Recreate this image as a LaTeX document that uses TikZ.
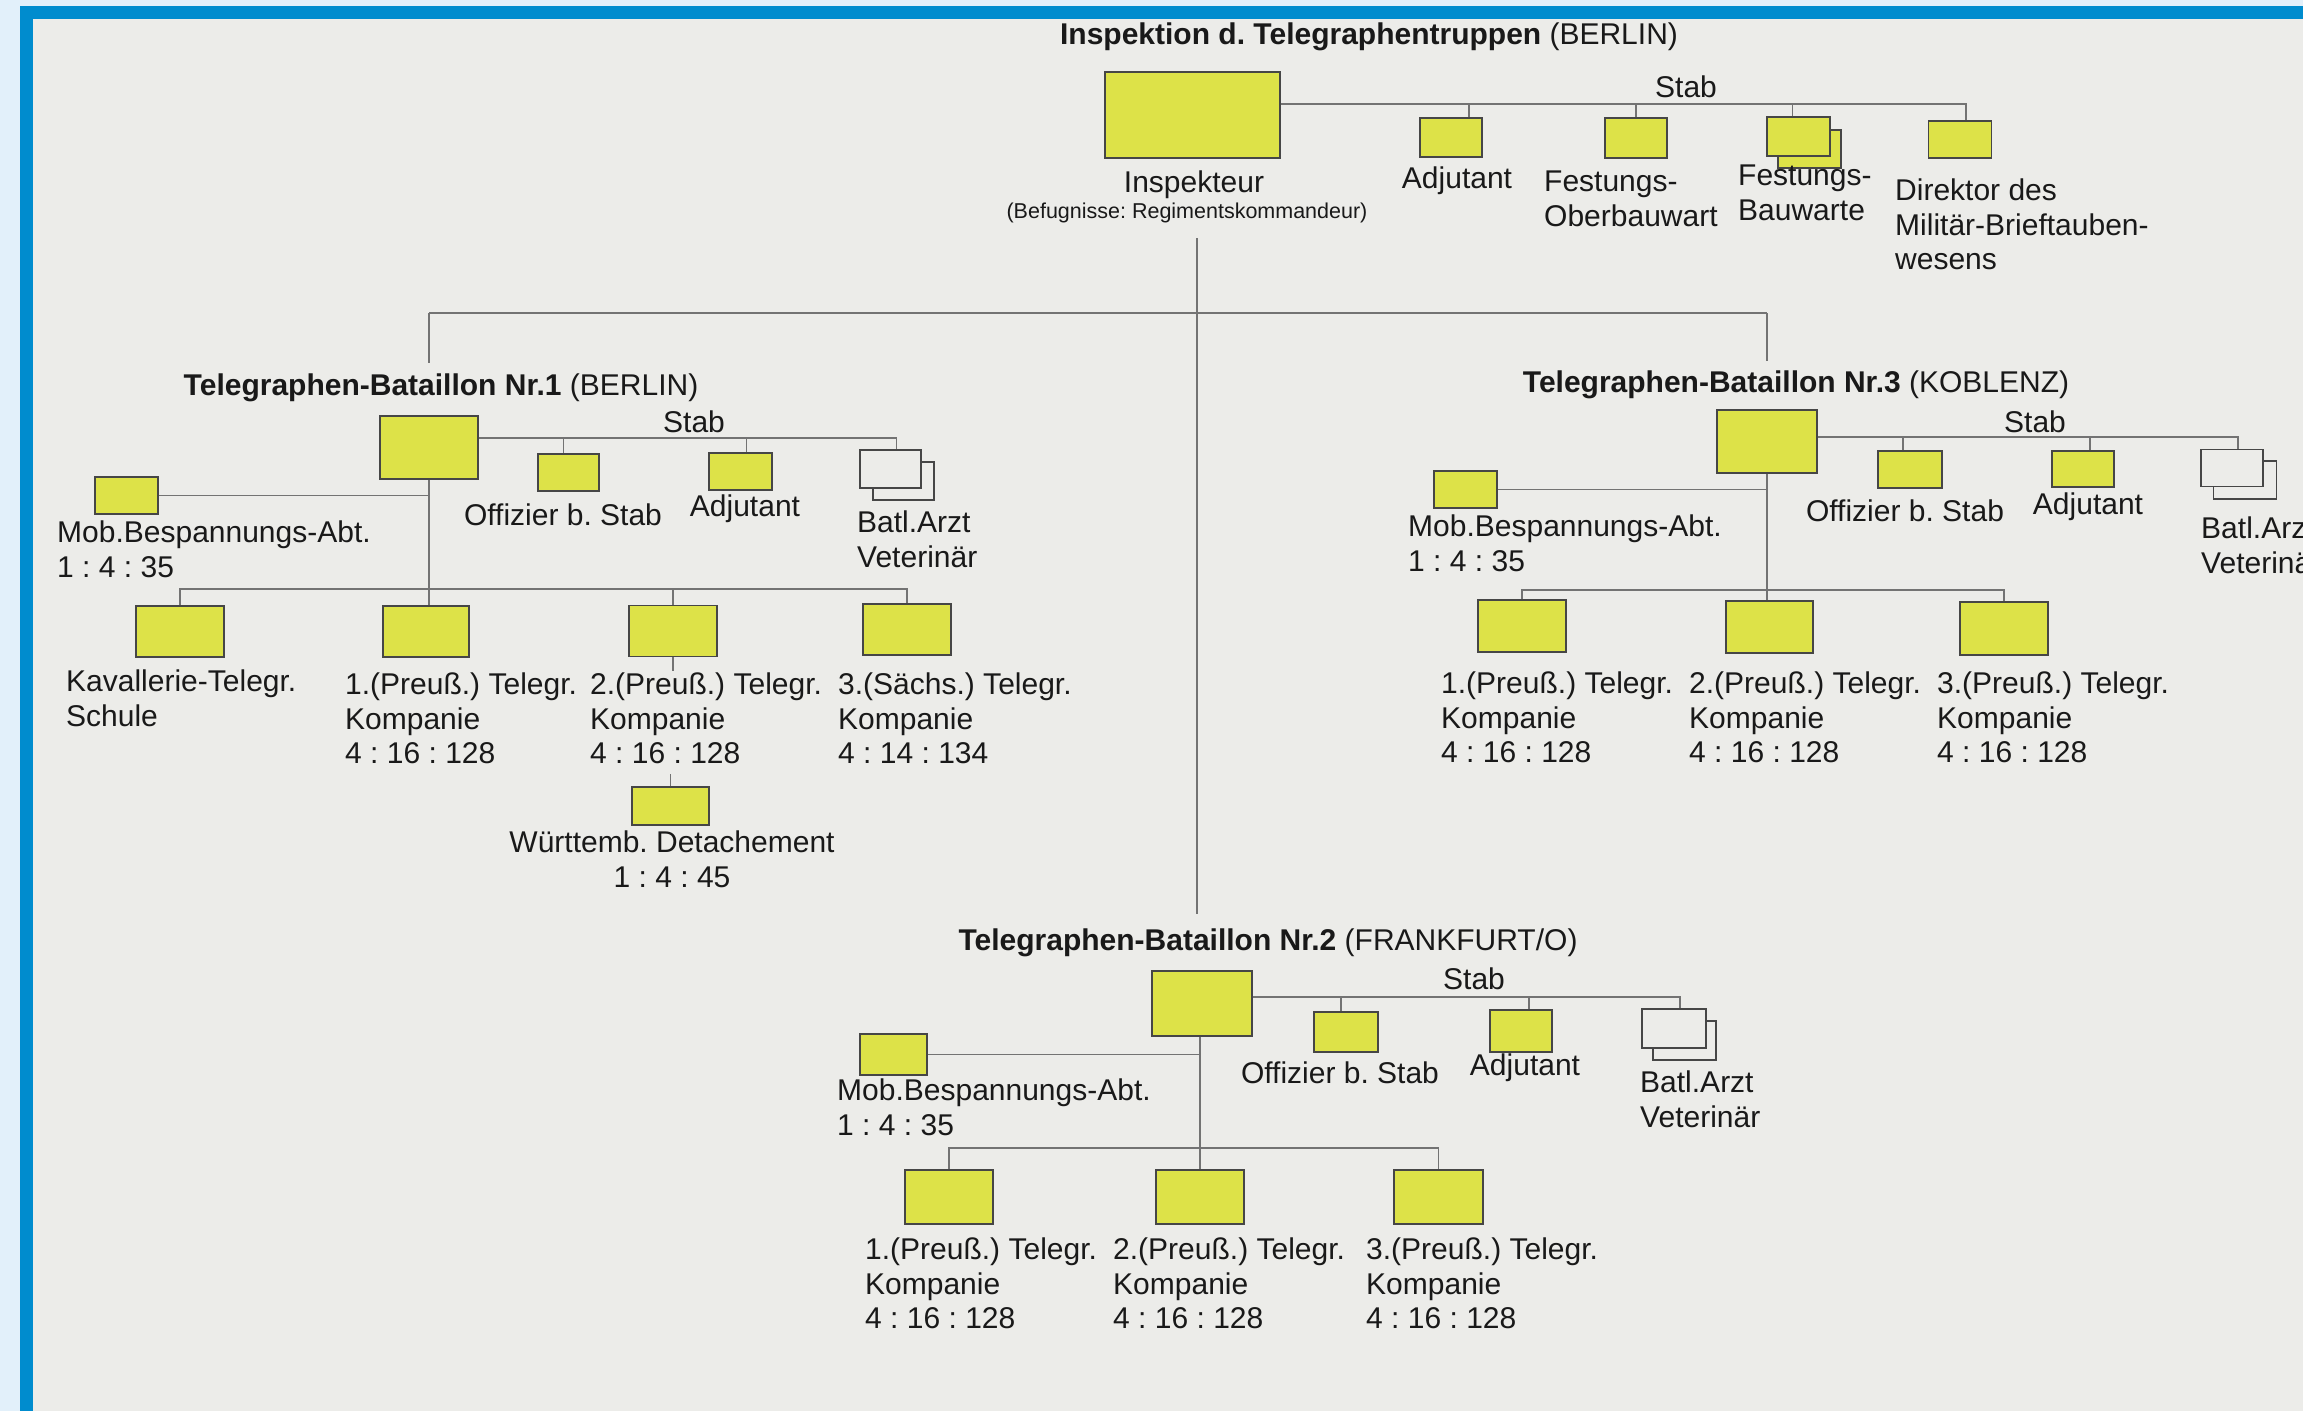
\documentclass[tikz,border=0pt]{standalone}
\usepackage{fontspec}
\setmainfont{Liberation Sans}
\frenchspacing
\definecolor{paper}{RGB}{236,236,233}
\definecolor{frameblue}{RGB}{0,140,206}
\definecolor{lightblue}{RGB}{226,240,250}
\definecolor{hiyel}{RGB}{221,226,72}
\definecolor{boxline}{RGB}{70,70,70}
\definecolor{conn}{RGB}{115,115,115}
\definecolor{ink}{RGB}{25,25,25}
\begin{document}
\begin{tikzpicture}[x=1pt,y=-1pt,
  sz/.style 2 args={minimum width=#1pt, minimum height=#2pt},
  ybox/.style={rectangle, draw=boxline, line width=1.4pt, fill=hiyel, inner sep=0pt},
  ebox/.style={rectangle, draw=boxline, line width=1.3pt, fill=paper, inner sep=0pt},
  wire/.style={draw=conn, line width=1.5pt},
  lab/.style={inner sep=0pt, text=ink, font=\fontsize{30}{34.5}\selectfont},
  labl/.style={lab, align=left, anchor=north west},
  labc/.style={lab, anchor=base},
]
\useasboundingbox (0,0) rectangle (2303,1411);
\clip (0,0) rectangle (2303,1411);
% frame and paper
\fill[lightblue] (0,0) rectangle (2303,1411);
\fill[frameblue] (19.5,6) rectangle (2303,1411);
\fill[paper] (33,19) rectangle (2303,1411);

% ---------------- Inspektion ----------------
\node[labc] (t0) at (1369,44.5) {\textbf{Inspektion d. Telegraphentruppen} (BERLIN)};
\node[ybox, sz={175}{86}] (insp) at (1192.5,115) {};
\node[ybox, sz={62}{39}] (adj0) at (1451,137.5) {};
\node[ybox, sz={62}{40}] (fob) at (1636,138) {};
\node[ybox, sz={63}{38}] (fbwb) at (1809.5,149) {};
\node[ybox, sz={63}{39}] (fbw) at (1798.5,136.5) {};
\node[ybox, sz={63}{37}] (dir) at (1960,139.5) {};
\coordinate (stab0) at (0,104);
\draw[wire] (insp.east |- stab0) -| ([xshift=6pt]dir.north);
\draw[wire] ([xshift=18pt]adj0.north) -- ([xshift=18pt]adj0.north |- stab0);
\draw[wire] (fob.north) -- (fob.north |- stab0);
\draw[wire] ([xshift=-6pt]fbw.north) -- ([xshift=-6pt]fbw.north |- stab0);
\node[labc] (s0) at (1686,97.5) {Stab};
\node[labc] (linsp) at (1194,192.5) {Inspekteur};
\node[lab, anchor=base, font=\fontsize{21.5}{24}\selectfont] (befug) at (1187,218) {(Befugnisse: Regimentskommandeur)};
\node[labc] (ladj0) at (1457,188.5) {Adjutant};
\node[labl] (lfob) at (1544,171) {Festungs-\\Oberbauwart};
\node[labl] (lfbw) at (1738,165) {Festungs-\\Bauwarte};
\node[labl] (ldir) at (1895,179) {Direktor des\\Militär-Brieftauben-\\wesens};

% ---------------- Bataillon 1 ----------------
\node[labc] (t1) at (441,395.5) {\textbf{Telegraphen-Bataillon Nr.1} (BERLIN)};
\node[ybox, sz={98}{63}] (bn1) at (429,447.5) {};
\node[ybox, sz={61}{37}] (off1) at (568.5,472.5) {};
\node[ybox, sz={63}{37}] (adj1) at (740.5,471.5) {};
\node[ebox, sz={61}{38}] (arzt1b) at (903.5,481) {};
\node[ebox, sz={61}{38}] (arzt1) at (890.5,469) {};
\node[ybox, sz={63}{37}] (mob1) at (126.5,495.5) {};
\node[ybox, sz={88}{51}] (kav) at (180,631.5) {};
\node[ybox, sz={86}{51}] (c11) at (426,631.5) {};
\node[ybox, sz={88}{51}] (c12) at (673,631) {};
\node[ybox, sz={88}{51}] (c13) at (907,629.5) {};
\node[ybox, sz={77}{38}] (wue) at (670.5,806) {};
\coordinate (stab1) at (0,438);
\coordinate (bus1) at (0,589);
\draw[wire] (bn1.east |- stab1) -| ([xshift=6pt]arzt1.north);
\draw[wire] ([xshift=-5pt]off1.north) -- ([xshift=-5pt]off1.north |- stab1);
\draw[wire] ([xshift=6pt]adj1.north) -- ([xshift=6pt]adj1.north |- stab1);
\draw[wire] (mob1.east) -- (mob1.east -| bn1.south);
\draw[wire] (bn1.south) -- (bn1.south |- c11.north);
\draw[wire] (kav.north) -- (kav.north |- bus1) -- (c13.north |- bus1) -- (c13.north);
\draw[wire] (c12.north) -- (c12.north |- bus1);
\draw[wire] (c12.south) -- ++(0,14);
\draw[wire] (wue.north) -- ++(0,-12);
\node[labc] (s1) at (694,432.5) {Stab};
\node[labc] (loff1) at (563,525.5) {Offizier b. Stab};
\node[labc] (ladj1) at (745,516.5) {Adjutant};
\node[labl] (larzt1) at (857,511) {Batl.Arzt\\Veterinär};
\node[labl] (lmob1) at (57,521) {Mob.Bespannungs-Abt.\\1 : 4 : 35};
\node[labl] (lkav) at (66,670) {Kavallerie-Telegr.\\Schule};
\node[labl] (lc11) at (345,673) {1.(Preuß.) Telegr.\\Kompanie\\4 : 16 : 128};
\node[labl] (lc12) at (590,673) {2.(Preuß.) Telegr.\\Kompanie\\4 : 16 : 128};
\node[labl] (lc13) at (838,673) {3.(Sächs.) Telegr.\\Kompanie\\4 : 14 : 134};
\node[lab, align=center, anchor=north] (lwue) at (672,831) {Württemb. Detachement\\1 : 4 : 45};

% ---------------- Bataillon 3 ----------------
\node[labc] (t3) at (1796,392) {\textbf{Telegraphen-Bataillon Nr.3} (KOBLENZ)};
\node[ybox, sz={100}{63}] (bn3) at (1767,441.5) {};
\node[ybox, sz={64}{37}] (off3) at (1910,469.5) {};
\node[ybox, sz={62}{36}] (adj3) at (2083,469) {};
\node[ebox, sz={63}{38}] (arzt3b) at (2245,480) {};
\node[ebox, sz={62}{37}] (arzt3) at (2232,468) {};
\node[ybox, sz={63}{37}] (mob3) at (1465.5,489.5) {};
\node[ybox, sz={88}{52}] (c31) at (1522,626) {};
\node[ybox, sz={87}{52}] (c32) at (1769.5,627) {};
\node[ybox, sz={88}{53}] (c33) at (2004,628.5) {};
\coordinate (stab3) at (0,437);
\coordinate (bus3) at (0,590);
\draw[wire] (bn3.east |- stab3) -| ([xshift=6pt]arzt3.north);
\draw[wire] ([xshift=-7pt]off3.north) -- ([xshift=-7pt]off3.north |- stab3);
\draw[wire] ([xshift=7pt]adj3.north) -- ([xshift=7pt]adj3.north |- stab3);
\draw[wire] (mob3.east) -- (mob3.east -| bn3.south);
\draw[wire] (bn3.south) -- (bn3.south |- c32.north);
\draw[wire] (c31.north) -- (c31.north |- bus3) -- (c33.north |- bus3) -- (c33.north);
\node[labc] (s3) at (2035,432) {Stab};
\node[labc] (loff3) at (1905,521) {Offizier b. Stab};
\node[labc] (ladj3) at (2088,514) {Adjutant};
\node[labl] (larzt3) at (2201,517) {Batl.Arzt\\Veterinär};
\node[labl] (lmob3) at (1408,515) {Mob.Bespannungs-Abt.\\1 : 4 : 35};
\node[labl] (lc31) at (1441,672) {1.(Preuß.) Telegr.\\Kompanie\\4 : 16 : 128};
\node[labl] (lc32) at (1689,672) {2.(Preuß.) Telegr.\\Kompanie\\4 : 16 : 128};
\node[labl] (lc33) at (1937,672) {3.(Preuß.) Telegr.\\Kompanie\\4 : 16 : 128};

% ---------------- Bataillon 2 ----------------
\node[labc] (t2) at (1268,950) {\textbf{Telegraphen-Bataillon Nr.2} (FRANKFURT/O)};
\node[ybox, sz={100}{65}] (bn2) at (1202,1003.5) {};
\node[ybox, sz={64}{40}] (off2) at (1346,1032) {};
\node[ybox, sz={62}{42}] (adj2) at (1521,1031) {};
\node[ebox, sz={63}{39}] (arzt2b) at (1684.5,1040.5) {};
\node[ebox, sz={64}{39}] (arzt2) at (1674,1028.5) {};
\node[ybox, sz={67}{41}] (mob2) at (893.5,1054.5) {};
\node[ybox, sz={88}{54}] (c21) at (949,1197) {};
\node[ybox, sz={88}{54}] (c22) at (1200,1197) {};
\node[ybox, sz={89}{54}] (c23) at (1438.5,1197) {};
\coordinate (stab2) at (0,997);
\coordinate (bus2) at (0,1148);
\draw[wire] (bn2.east |- stab2) -| ([xshift=6pt]arzt2.north);
\draw[wire] ([xshift=-5pt]off2.north) -- ([xshift=-5pt]off2.north |- stab2);
\draw[wire] ([xshift=8pt]adj2.north) -- ([xshift=8pt]adj2.north |- stab2);
\draw[wire] (mob2.east) -- (mob2.east -| c22.north);
\draw[wire] (c22.north |- bn2.south) -- (c22.north);
\draw[wire] (c21.north) -- (c21.north |- bus2) -- (c23.north |- bus2) -- (c23.north);
\node[labc] (s2) at (1474,989.5) {Stab};
\node[labc] (loff2) at (1340,1083) {Offizier b. Stab};
\node[labc] (ladj2) at (1525,1075) {Adjutant};
\node[labl] (larzt2) at (1640,1071) {Batl.Arzt\\Veterinär};
\node[labl] (lmob2) at (837,1079) {Mob.Bespannungs-Abt.\\1 : 4 : 35};
\node[labl] (lc21) at (865,1238) {1.(Preuß.) Telegr.\\Kompanie\\4 : 16 : 128};
\node[labl] (lc22) at (1113,1238) {2.(Preuß.) Telegr.\\Kompanie\\4 : 16 : 128};
\node[labl] (lc23) at (1366,1238) {3.(Preuß.) Telegr.\\Kompanie\\4 : 16 : 128};

% ---------------- main tree ----------------
\coordinate (mainTop) at (1197,238);
\coordinate (hub) at (1197,313);
\coordinate (mainBot) at (1197,914);
\draw[wire] (mainTop) -- (mainBot);
\draw[wire] (bn1 |- hub) -- (bn3 |- hub);
\draw[wire] (bn1 |- hub) -- ++(0,50);
\draw[wire] (bn3 |- hub) -- ++(0,48);
\end{tikzpicture}
\end{document}
